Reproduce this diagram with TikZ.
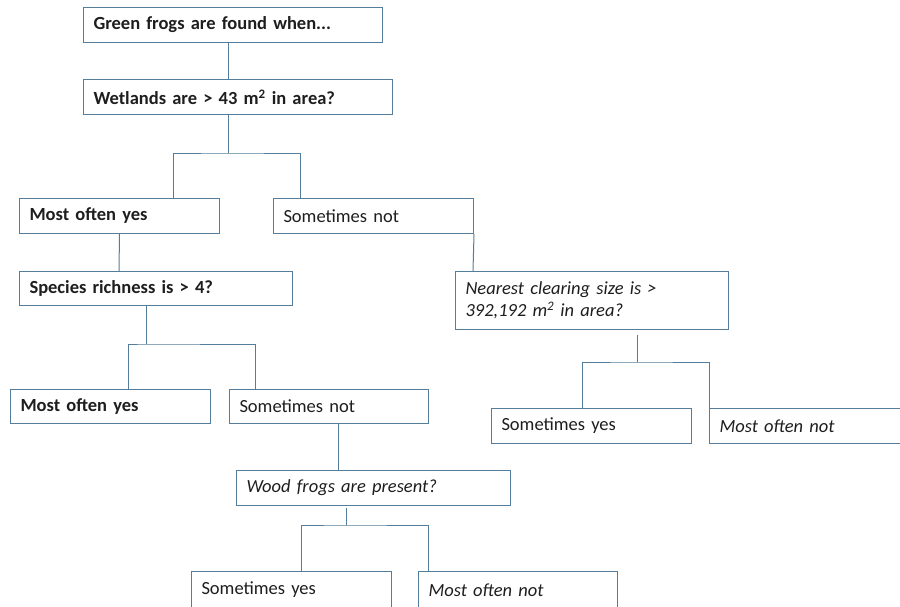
\documentclass[tikz,border=0pt]{standalone}
\usepackage{fontspec}
\setmainfont{Carlito}
\usepackage{tikz}
\usetikzlibrary{positioning}
\definecolor{edge}{RGB}{84,125,155}
\definecolor{ink}{RGB}{30,30,30}
\tikzset{
  box/.style  ={draw=edge, line width=1pt, rectangle, anchor=north west,
                inner xsep=10pt, inner ysep=0pt, align=left, text=ink,
                minimum height=35pt, text width=#1},
  link/.style ={draw=edge, line width=1pt},
}

\begin{document}
\begin{tikzpicture}[x=1pt, y=-1pt, font=\fontsize{18.5}{22}\selectfont]
  \useasboundingbox (0,0) rectangle (900,606);
  \fill[white] (0,0) rectangle (900,606);
  \clip (0,0) rectangle (900,606);

  % top questions
  \node[box=279pt] (find) at (83,7) {\bfseries Green frogs are found when...};
  \node[box=289pt] (wet) at (83,79) {\bfseries Wetlands are > 43 m\textsuperscript{2} in area?};

  % first split
  \node[box=180pt] (yes1) at (19,198) {\bfseries Most often yes};
  \node[box=180pt] (not1) at (273,198) {Sometimes not};

  % left branch
  \node[box=253pt, minimum height=34pt] (rich) at (19,271) {\bfseries Species richness is > 4?};
  \node[box=180pt, minimum height=34pt] (yes2) at (10,389) {\bfseries Most often yes};
  \node[box=179pt, minimum height=34pt] (not2) at (229,389) {Sometimes not};
  \node[box=254pt] (wood) at (236,470) {\itshape Wood frogs are present?};
  \node[box=180pt, minimum height=37pt] (syes2) at (191,571) {Sometimes yes};
  \node[box=179pt, minimum height=37pt] (mnot2) at (418,571) {\itshape Most often not};

  % right branch
  \node[box=253pt, minimum height=58pt] (clear) at (455,271)
    {\itshape Nearest clearing size is >\\ 392,192 m\textsuperscript{2} in area?};
  \node[box=180pt] (syes1) at (491,408) {Sometimes yes};
  \node[box=180pt] (mnot1) at (709,408) {\itshape Most often not};

  % connectors
  \coordinate (j1) at (228,153);
  \coordinate (j2) at (146,344);
  \coordinate (j3) at (637,362);
  \coordinate (j4) at (346,525);

  \draw[link] ([xshift=145pt]find.south west) -- ([xshift=145pt]wet.north west);
  \draw[link] (wet.south -| j1) -- (j1);
  \draw[link] ([xshift=154pt]yes1.north west) |- (j1) -| ([xshift=27pt]not1.north west);

  \draw[link] (yes1.south) -- ([xshift=100pt]rich.north west);
  \draw[link] (rich.south -| j2) -- (j2);
  \draw[link] ([xshift=118pt]yes2.north west) |- (j2) -| ([xshift=26pt]not2.north west);

  \draw[link] ([xshift=109pt]not2.south west) -- ([xshift=102pt]wood.north west);
  \draw[link] ([yshift=-2pt]wood.south -| j4) -- (j4);
  \draw[link] ([xshift=110pt]syes2.north west) |- (j4) -| ([xshift=10pt]mnot2.north west);

  \draw[link] (not1.south east) -- ([xshift=18pt]clear.north west);
  \draw[link] ([yshift=-5pt]clear.south -| j3) -- (j3);
  \draw[link] ([xshift=91pt]syes1.north west) |- (j3) -| (mnot1.north west);
\end{tikzpicture}
\end{document}
